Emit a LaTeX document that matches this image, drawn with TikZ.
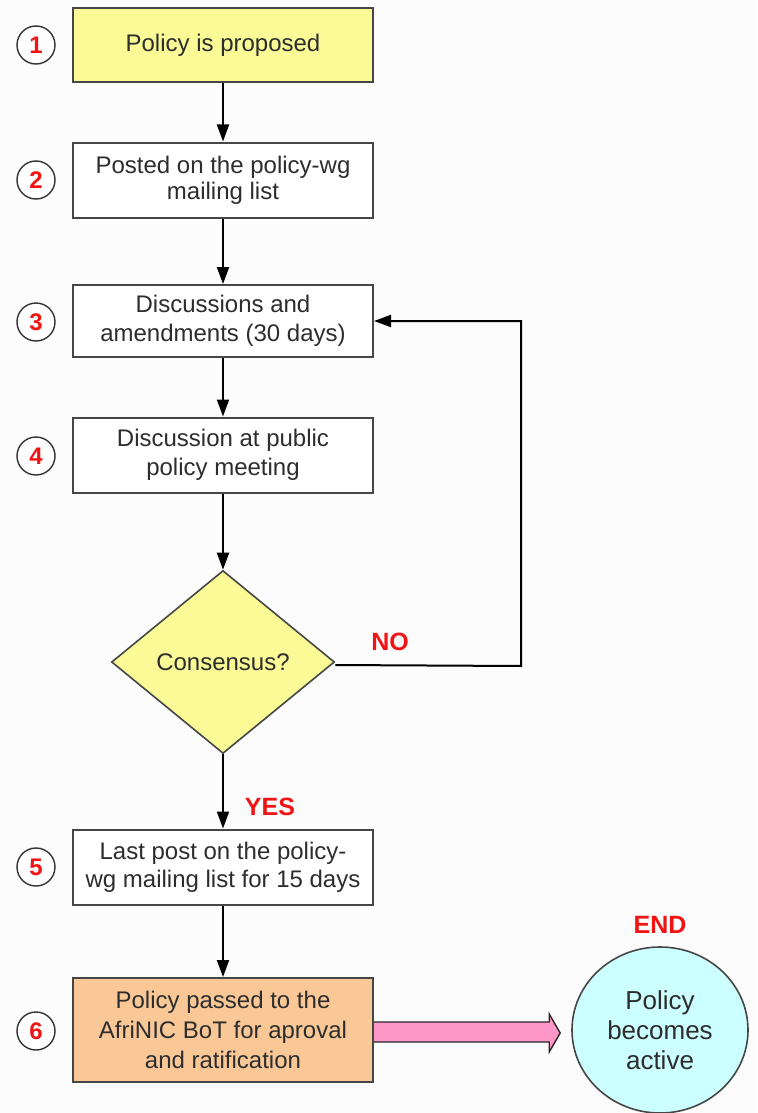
\documentclass[tikz,border=0pt]{standalone}
\usepackage{fontspec}
\setmainfont{Liberation Sans}
\usetikzlibrary{shapes.geometric,arrows.meta,calc}
\definecolor{yellowfill}{RGB}{250,250,150}
\definecolor{orangefill}{RGB}{250,200,150}
\definecolor{cyanfill}{RGB}{204,255,255}
\definecolor{pinkfill}{RGB}{255,150,200}
\definecolor{bordergray}{RGB}{70,70,70}
\definecolor{textgray}{RGB}{45,45,45}
\definecolor{labelred}{RGB}{240,20,20}
\definecolor{bgcol}{RGB}{252,252,252}
\begin{document}
\begin{tikzpicture}[x=0.5pt,y=-0.5pt,
  stepbox/.style={draw=bordergray, line width=1pt, fill=white, minimum width=150pt,
    minimum height=37.5pt, inner sep=2pt, align=center, text=textgray,
    font=\fontsize{12}{14.5}\selectfont},
  numcirc/.style={circle, draw=black!80, line width=0.7pt, fill=white, minimum size=19pt,
    inner sep=0pt, text=labelred, font=\fontsize{12}{13}\selectfont\bfseries},
  redlabel/.style={text=labelred, font=\fontsize{12.5}{14}\selectfont\bfseries, inner sep=0pt},
  flow/.style={draw=black, line width=1pt, -{Triangle[width=6pt,length=8.5pt]}},
]
\path[use as bounding box, fill=bgcol] (0,0) rectangle (757,1113);

\node[stepbox, fill=yellowfill, minimum height=37pt] (b1) at (223,45) {Policy is proposed};
\node[stepbox, font=\fontsize{12}{13}\selectfont] (b2) at (223,180) {Posted on the policy-wg\\mailing list};
\node[stepbox, minimum height=36pt] (b3) at (223,321) {Discussions and\\amendments (30 days)};
\node[stepbox] (b4) at (223,455) {Discussion at public\\policy meeting};
\node[diamond, draw=bordergray, line width=0.8pt, fill=yellowfill, minimum width=111.5pt,
  minimum height=91.5pt, inner sep=0pt, text=textgray, font=\fontsize{12}{13}\selectfont]
  (d) at (223,662) {Consensus?};
\node[stepbox, font=\fontsize{12}{14}\selectfont] (b5) at (223,867) {Last post on the policy-\\wg mailing list for 15 days};
\node[stepbox, fill=orangefill, minimum height=52pt, font=\fontsize{12}{15}\selectfont] (b6) at (223,1030)
  {Policy passed to the\\AfriNIC BoT for aproval\\and ratification};
\node[ellipse, draw=bordergray, line width=0.8pt, fill=cyanfill, minimum width=88pt,
  minimum height=83pt, inner sep=0pt, align=center, text=textgray,
  font=\fontsize{13}{15}\selectfont] (e) at (660,1030) {Policy\\becomes\\active};

\node[numcirc] (n1) at (36,45) {1};
\node[numcirc] (n2) at (36,180) {2};
\node[numcirc] (n3) at (36,322) {3};
\node[numcirc] (n4) at (36,456) {4};
\node[numcirc] (n5) at (36,867) {5};
\node[numcirc] (n6) at (36,1031) {6};

\node[redlabel] (no) at (390,642) {NO};
\node[redlabel] (yes) at (270,807) {YES};
\node[redlabel] (endl) at (660,925) {END};

\draw[flow] (b1) -- (b2);
\draw[flow] (b2) -- (b3);
\draw[flow] (b3) -- (b4);
\draw[flow] (b4) -- (d);
\draw[flow] (d) -- (b5);
\draw[flow] (b5) -- (b6);
\coordinate (loop) at (521,666);
\draw[flow] ($(d.east)+(0,3)$) -- (loop) |- (b3.east);

\draw[draw=black!85, line width=0.7pt, fill=pinkfill, line join=miter]
  ($(b6.east)+(0,-8)$) -- ($(e.west)+(-22,-8)$) -- ($(e.west)+(-22,-16)$)
  -- ($(e.west)+(-11,3)$) -- ($(e.west)+(-22,22)$) -- ($(e.west)+(-22,12)$)
  -- ($(b6.east)+(0,12)$);
\end{tikzpicture}
\end{document}
